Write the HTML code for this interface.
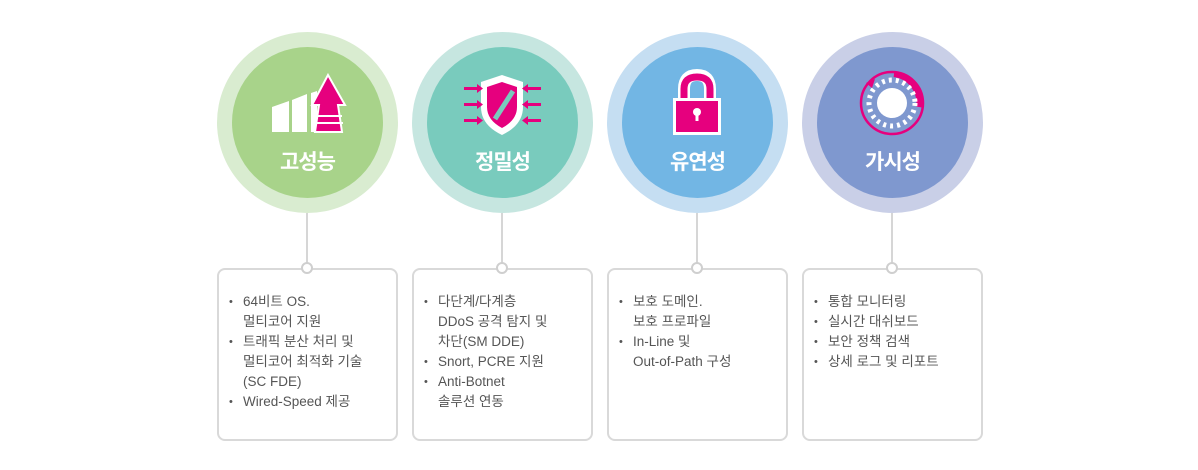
<!DOCTYPE html>
<html><head><meta charset="utf-8"><style>
body{margin:0;width:1198px;height:470px;background:#fff;position:relative;overflow:hidden;font-family:"Liberation Sans","Noto Sans CJK KR",sans-serif}
.o{position:absolute;top:32px;width:181px;height:181px;border-radius:50%}
.i{position:absolute;left:15px;top:15px;width:151px;height:151px;border-radius:50%}
.t{position:absolute;left:0;width:100%;top:99px;text-align:center;color:#fff;font-size:21px;font-weight:bold;letter-spacing:-1px}
.ln{position:absolute;top:213px;width:2px;height:50px;background:#d6d6d6}
.dot{position:absolute;top:262px;width:8px;height:8px;border:2px solid #cfcfcf;border-radius:50%;background:#fff;z-index:2}
.box{position:absolute;top:268px;border:2px solid #d9d9d9;border-radius:8px;box-sizing:border-box;width:181px;height:173px}
ul{list-style:none;margin:0;padding:0;position:absolute;left:10px;top:22px;font-size:13.5px;line-height:20px;color:#555}
li{padding-left:14px;position:relative}
li:before{content:"•";position:absolute;left:0;font-size:11px}
svg{position:absolute;left:0;top:-10px}
</style></head><body>

<div class="o" style="left:217px;background:#d9ecd0"><div class="i" style="background:#a8d38a">
<svg width="151" height="151" viewBox="0 0 151 151">
<polygon points="40,70 57,64 57,95 40,95" fill="#fff"/>
<polygon points="60,63 75,57 75,95 60,95" fill="#fff"/>
<polygon points="79,56 85,54 85,95 79,95" fill="#fff"/>
<polygon points="96,38 113,68 106,68 110,95 83,95 87,68 80,68" fill="#e6007e" stroke="#fff" stroke-width="2"/>
<rect x="86" y="78" width="24" height="2" fill="#fff"/><rect x="85" y="85" width="26" height="2" fill="#fff"/>
</svg>
<div class="t">고성능</div></div></div>

<div class="o" style="left:412px;background:#c6e6e0"><div class="i" style="background:#79cbbd">
<svg width="151" height="151" viewBox="0 0 151 151">
<path d="M75,38 L96,45 L96,70 Q96,88 75,98 Q54,88 54,70 L54,45 Z" fill="#fff"/>
<path d="M75,45 L90,50 L90,70 Q90,83 75,91 Q60,83 60,70 L60,50 Z" fill="#e6007e"/>
<line x1="68" y1="82" x2="86" y2="54" stroke="#79cbbd" stroke-width="5"/>
<g fill="#e6007e"><rect x="37" y="50" width="13" height="3"/><polygon points="50,47 56,51.5 50,56"/>
<rect x="37" y="66" width="13" height="3"/><polygon points="50,63 56,67.5 50,72"/>
<rect x="37" y="82" width="13" height="3"/><polygon points="50,79 56,83.5 50,88"/>
<rect x="101" y="50" width="13" height="3"/><polygon points="101,47 95,51.5 101,56"/>
<rect x="101" y="66" width="13" height="3"/><polygon points="101,63 95,67.5 101,72"/>
<rect x="101" y="82" width="13" height="3"/><polygon points="101,79 95,83.5 101,88"/></g>
</svg>
<div class="t">정밀성</div></div></div>

<div class="o" style="left:607px;background:#c5def2"><div class="i" style="background:#72b6e4">
<svg width="151" height="151" viewBox="0 0 151 151">
<path d="M62,63 L62,52 Q62,38 75,38 Q88,38 88,52 L88,63" fill="none" stroke="#fff" stroke-width="12"/>
<path d="M62,63 L62,52 Q62,40 75,40 Q88,40 88,52 L88,63" fill="none" stroke="#e6007e" stroke-width="7"/>
<rect x="51" y="61" width="48" height="37" fill="#fff"/><rect x="54" y="64" width="42" height="31" fill="#e6007e"/>
<circle cx="75" cy="75" r="4" fill="#fff"/><rect x="73.5" y="75" width="3" height="9" fill="#fff"/>
</svg>
<div class="t">유연성</div></div></div>

<div class="o" style="left:802px;background:#c9cfe7"><div class="i" style="background:#7f98cf">
<svg width="151" height="151" viewBox="0 0 151 151">
<circle cx="75" cy="66" r="31" fill="none" stroke="#e6007e" stroke-width="2.5"/>
<path d="M77,37 A29,29 0 0 1 102,70" fill="none" stroke="#e6007e" stroke-width="6"/>
<circle cx="75" cy="66" r="23" fill="none" stroke="#fff" stroke-width="5" stroke-dasharray="3 4"/>
<circle cx="75" cy="66" r="15" fill="#fff"/>
<polygon points="49,46 58,42 55,51" fill="#e6007e"/>
</svg>
<div class="t">가시성</div></div></div>

<div class="ln" style="left:306px"></div><div class="ln" style="left:501px"></div><div class="ln" style="left:696px"></div><div class="ln" style="left:891px"></div>
<div class="dot" style="left:301px"></div><div class="dot" style="left:496px"></div><div class="dot" style="left:691px"></div><div class="dot" style="left:886px"></div>

<div class="box" style="left:217px"><ul><li>64비트 OS.<br>멀티코어 지원</li><li>트래픽 분산 처리 및<br>멀티코어 최적화 기술<br>(SC FDE)</li><li>Wired-Speed 제공</li></ul></div>
<div class="box" style="left:412px"><ul><li>다단계/다계층<br>DDoS 공격 탐지 및<br>차단(SM DDE)</li><li>Snort, PCRE 지원</li><li>Anti-Botnet<br>솔루션 연동</li></ul></div>
<div class="box" style="left:607px"><ul><li>보호 도메인.<br>보호 프로파일</li><li>In-Line 및<br>Out-of-Path 구성</li></ul></div>
<div class="box" style="left:802px"><ul><li>통합 모니터링</li><li>실시간 대쉬보드</li><li>보안 정책 검색</li><li>상세 로그 및 리포트</li></ul></div>
</body></html>
